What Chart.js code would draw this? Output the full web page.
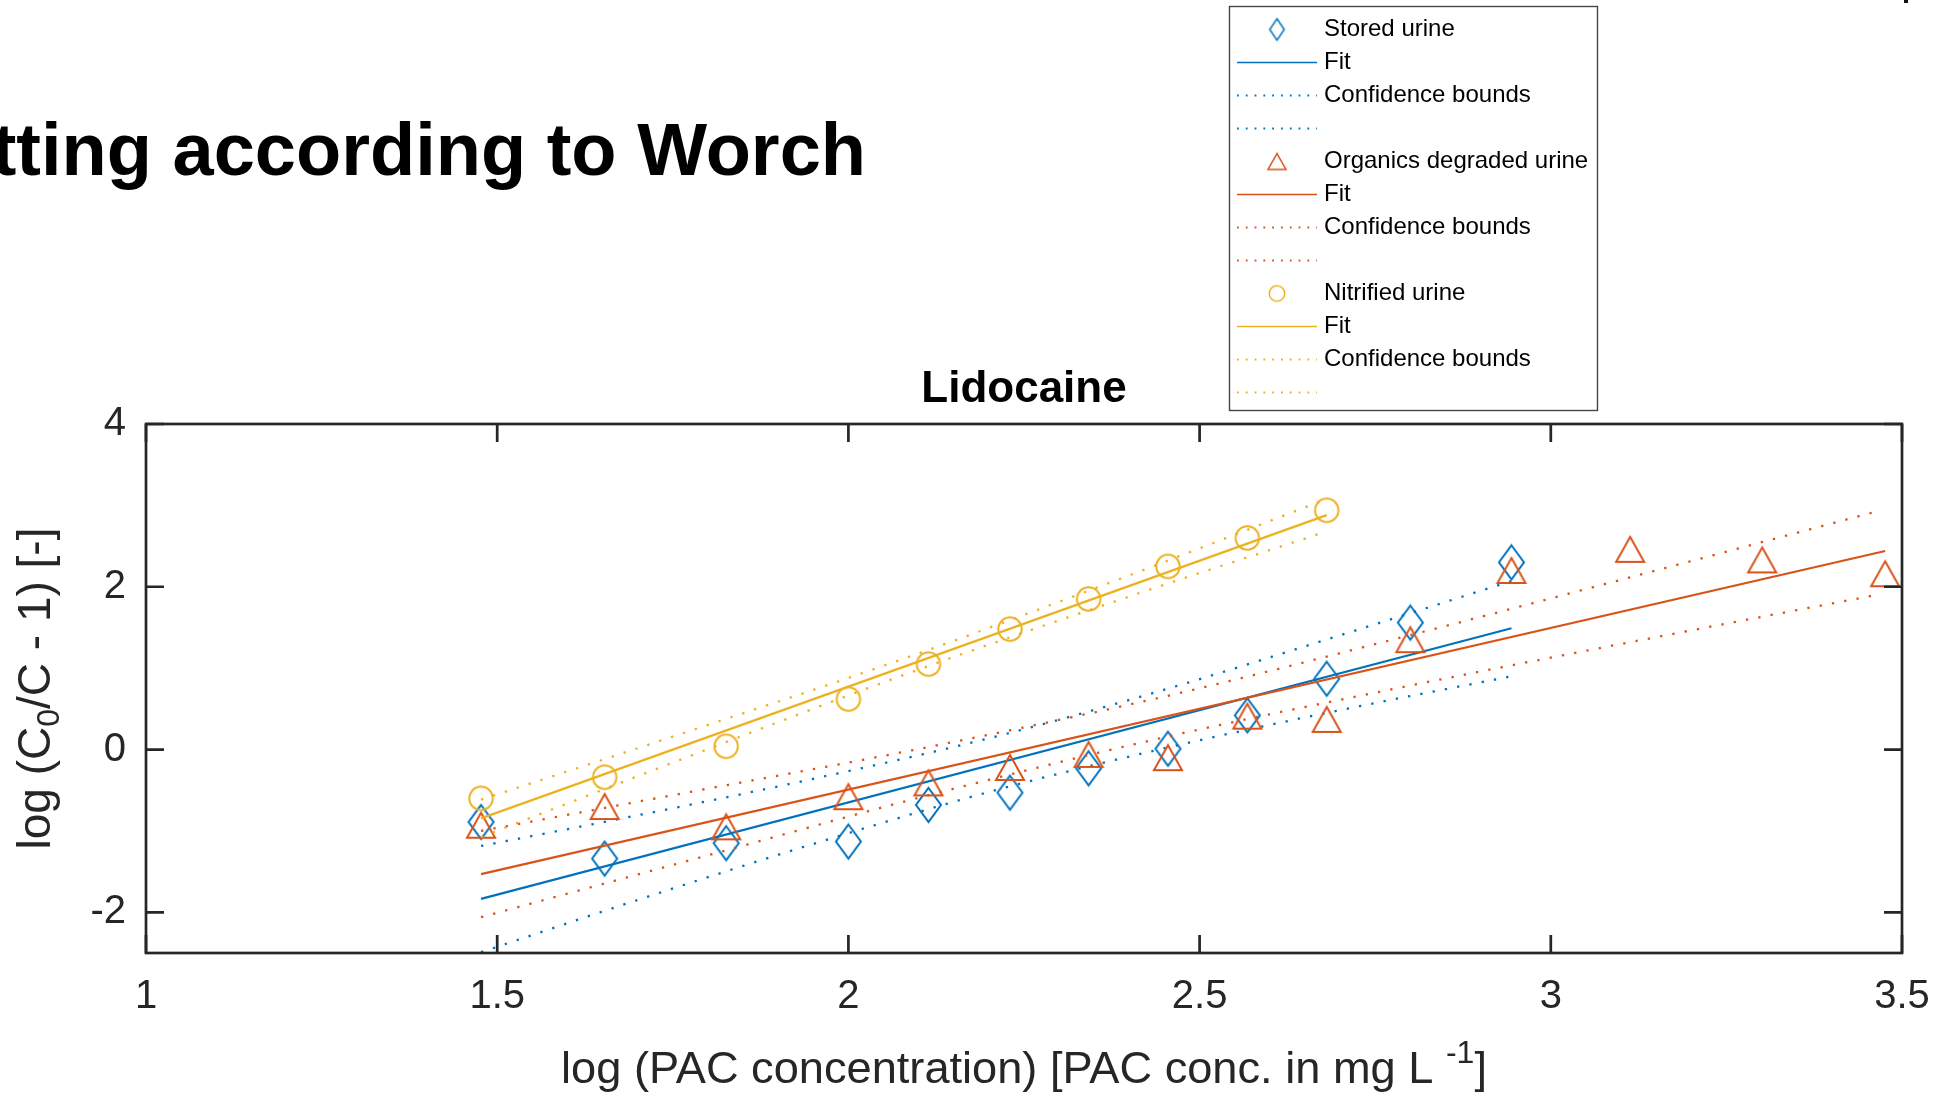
<!DOCTYPE html>
<html>
<head>
<meta charset="utf-8">
<script src="https://cdn.jsdelivr.net/npm/chart.js@4.4.1/dist/chart.umd.min.js"></script>
<style>
  html, body { margin: 0; padding: 0; background: #fff; overflow: hidden; }
  #graph { position: absolute; left: 0; top: 0; }
</style>
</head>
<body>
<canvas id="graph" width="1938" height="1094"></canvas>
<script>
// log10 of the PAC doses (mg/L)
var logPac = [1.477, 1.653, 1.826, 2.000, 2.114, 2.230, 2.342, 2.455, 2.568, 2.681, 2.800, 2.944];
var logPacHigh = [3.113, 3.301, 3.476];

// log(C0/C - 1) per matrix
var storedUrine = [-0.89, -1.34, -1.15, -1.13, -0.68, -0.53, -0.23, 0.01, 0.42, 0.87, 1.56, 2.30];
var organicsUrine = [-0.93, -0.70, -0.95, -0.58, -0.41, -0.22, -0.06, -0.10, 0.41, 0.37, 1.35, 2.20, 2.46, 2.33, 2.16];
var nitrifiedUrine = [-0.60, -0.34, 0.04, 0.62, 1.05, 1.48, 1.85, 2.25, 2.60, 2.94];

// linear fits (end points)
var storedFitX = [1.477, 2.944];
var storedFitY = [-1.835, 1.49];
var organicsFitX = [1.477, 3.476];
var organicsFitY = [-1.53, 2.44];
var nitrifiedFitX = [1.477, 2.681];
var nitrifiedFitY = [-0.846, 2.88];

// confidence bounds
var storedBoundX = [1.477, 1.70, 1.95, 2.20, 2.45, 2.70, 2.944];
var storedUpper = [-1.185, -0.808, -0.36, 0.138, 0.736, 1.404, 2.07];
var storedLower = [-2.49, -1.848, -1.16, -0.522, 0.016, 0.484, 0.90];
var organicsBoundX = [1.477, 1.80, 2.10, 2.45, 2.80, 3.15, 3.47];
var organicsUpper = [-1.00, -0.48, 0.007, 0.651, 1.406, 2.201, 2.94];
var organicsLower = [-2.06, -1.30, -0.593, 0.151, 0.786, 1.381, 1.91];
var nitrifiedBoundX = [1.477, 1.75, 2.08, 2.40, 2.681];
var nitrifiedUpper = [-0.616, 0.159, 1.12, 2.141, 3.08];
var nitrifiedLower = [-1.076, -0.161, 0.92, 1.881, 2.68];

var xTicks = [1, 1.5, 2, 2.5, 3, 3.5];
var xTickLabels = ['1', '1.5', '2', '2.5', '3', '3.5'];
var yTicks = [-2, 0, 2, 4];
var yTickLabels = ['-2', '0', '2', '4'];

var FONT = '"Liberation Sans", Arial, sans-serif';
var BLUE = '#0072BD', RED = '#D95319', YELLOW = '#EDB120';
var AXIS = '#262626';

function markerIcon(shape, color, w, h, lw) {
  var cv = document.createElement('canvas');
  var m = 4;
  cv.width = Math.ceil(w + 2 * m);
  cv.height = Math.ceil(h + 2 * m);
  var c = cv.getContext('2d');
  var cx = cv.width / 2, cy = cv.height / 2;
  c.strokeStyle = color;
  c.lineWidth = lw;
  c.beginPath();
  if (shape === 'diamond') {
    c.moveTo(cx, cy - h / 2); c.lineTo(cx + w / 2, cy);
    c.lineTo(cx, cy + h / 2); c.lineTo(cx - w / 2, cy);
    c.closePath();
  } else if (shape === 'triangle') {
    c.moveTo(cx, cy - h / 2); c.lineTo(cx + w / 2, cy + h / 2);
    c.lineTo(cx - w / 2, cy + h / 2);
    c.closePath();
  } else {
    c.ellipse(cx, cy, w / 2, h / 2, 0, 0, 2 * Math.PI);
  }
  c.stroke();
  return cv;
}

function pairs(xs, ys) {
  return ys.map(function (y, i) { return { x: xs[i], y: y }; });
}

var legendIcons = {};

function markerSet(label, xs, ys, color, shape, w, h, lw, lw2, h2) {
  legendIcons[label] = markerIcon(shape, color, lw2, h2, 1.5);
  return {
    label: label,
    data: pairs(xs, ys),
    showLine: false,
    pointStyle: markerIcon(shape, color, w, h, lw),
    pointRadius: 12,
    pointHoverRadius: 12,
    borderColor: color,
    backgroundColor: color,
    clip: false
  };
}

function lineSet(label, xs, ys, color, dotted) {
  return {
    label: label,
    data: pairs(xs, ys),
    showLine: true,
    pointRadius: 0,
    borderColor: color,
    borderWidth: dotted ? 2.3 : 2.2,
    borderDash: dotted ? [2.3, 10.2] : [],
    cubicInterpolationMode: dotted ? 'monotone' : 'default',
    fill: false
  };
}

var allPac = logPac.concat(logPacHigh);

var datasets = [
  markerSet('Stored urine', logPac, storedUrine, BLUE, 'diamond', 25, 34, 2, 14.5, 21.5),
  lineSet('Fit', storedFitX, storedFitY, BLUE, false),
  lineSet('Confidence bounds', storedBoundX, storedUpper, BLUE, true),
  lineSet('', storedBoundX, storedLower, BLUE, true),
  markerSet('Organics degraded urine', allPac, organicsUrine, RED, 'triangle', 28, 25, 2, 18, 15.8),
  lineSet('Fit', organicsFitX, organicsFitY, RED, false),
  lineSet('Confidence bounds', organicsBoundX, organicsUpper, RED, true),
  lineSet('', organicsBoundX, organicsLower, RED, true),
  markerSet('Nitrified urine', logPac.slice(0, nitrifiedUrine.length), nitrifiedUrine, YELLOW, 'circle', 23.4, 23.4, 2, 15.5, 15.5),
  lineSet('Fit', nitrifiedFitX, nitrifiedFitY, YELLOW, false),
  lineSet('Confidence bounds', nitrifiedBoundX, nitrifiedUpper, YELLOW, true),
  lineSet('', nitrifiedBoundX, nitrifiedLower, YELLOW, true)
];
// later series sit on top, as in the legend order
datasets.forEach(function (ds, i) { ds.order = datasets.length - i; });

function drawRich(c, parts, x, y) {
  var total = 0;
  parts.forEach(function (p) { c.font = p[1] + 'px ' + FONT; total += c.measureText(p[0]).width; });
  var cx = x - total / 2;
  parts.forEach(function (p) {
    c.font = p[1] + 'px ' + FONT;
    c.fillText(p[0], cx, y + p[2]);
    cx += c.measureText(p[0]).width;
  });
}

var figureDecor = {
  id: 'figureDecor',
  beforeDraw: function (chart) {
    var c = chart.ctx;
    c.save();
    c.fillStyle = '#fff';
    c.fillRect(0, 0, chart.width, chart.height);
    c.restore();
  },
  afterDraw: function (chart) {
    var c = chart.ctx;
    var a = chart.chartArea;
    var xs = chart.scales.x, ys = chart.scales.y;
    c.save();

    // axes box with inward ticks on all four sides
    c.strokeStyle = AXIS;
    c.lineWidth = 2.7;
    c.setLineDash([]);
    c.strokeRect(a.left, a.top, a.right - a.left, a.bottom - a.top);
    var tl = 18;
    c.beginPath();
    xTicks.forEach(function (v) {
      var px = xs.getPixelForValue(v);
      c.moveTo(px, a.bottom); c.lineTo(px, a.bottom - tl);
      c.moveTo(px, a.top); c.lineTo(px, a.top + tl);
    });
    yTicks.forEach(function (v) {
      var py = ys.getPixelForValue(v);
      c.moveTo(a.left, py); c.lineTo(a.left + tl, py);
      c.moveTo(a.right, py); c.lineTo(a.right - tl, py);
    });
    c.stroke();

    // slide heading, cut at the left edge
    c.fillStyle = '#000';
    c.font = 'bold 74px ' + FONT;
    c.textAlign = 'right';
    c.textBaseline = 'alphabetic';
    c.fillText('tting according to Worch', 866, 175);

    // axes title
    c.textAlign = 'center';
    c.font = 'bold 44px ' + FONT;
    c.fillText('Lidocaine', (a.left + a.right) / 2, 402);

    // axis labels
    c.fillStyle = AXIS;
    c.textAlign = 'left';
    drawRich(c, [['log (PAC concentration) [PAC conc. in mg L ', 45.2, 0], ['-1', 32, -20], [']', 45.2, 0]],
      (a.left + a.right) / 2, 1083);
    c.save();
    c.translate(50, (a.top + a.bottom) / 2);
    c.rotate(-Math.PI / 2);
    drawRich(c, [['log (C', 46, 0], ['0', 32, 9], ['/C - 1) [-]', 46, 0]], 0, 0);
    c.restore();

    // legend
    var lx = 1229, ly = 6, lw = 369, lh = 405;
    c.fillStyle = '#fff';
    c.fillRect(lx, ly, lw, lh);
    c.strokeStyle = '#454545';
    c.lineWidth = 1.4;
    c.strokeRect(lx + 0.5, ly + 0.5, lw - 1, lh - 1);
    c.font = '24px ' + FONT;
    c.textBaseline = 'middle';
    chart.data.datasets.forEach(function (ds, i) {
      var ry = 29.5 + 33 * i;
      if (ds.showLine) {
        var dotted = ds.borderDash && ds.borderDash.length;
        c.strokeStyle = ds.borderColor;
        c.lineWidth = dotted ? 1.8 : 1.4;
        c.setLineDash(dotted ? [1.8, 7] : []);
        c.beginPath();
        c.moveTo(1237, ry); c.lineTo(1317, ry);
        c.stroke();
        c.setLineDash([]);
      } else {
        var ic = legendIcons[ds.label];
        c.drawImage(ic, 1277 - ic.width / 2, ry - ic.height / 2);
      }
      c.fillStyle = '#000';
      c.fillText(ds.label, 1324, ry);
    });

    c.fillStyle = '#111';
    c.fillRect(1904, 0, 4, 3);
    c.restore();
  }
};

var ctx = document.getElementById('graph').getContext('2d');
var chart = new Chart(ctx, {
  type: 'scatter',
  data: { datasets: datasets },
  options: {
    responsive: false,
    animation: false,
    devicePixelRatio: 1,
    layout: { padding: { left: 0, top: 424, right: 36, bottom: 0 } },
    plugins: {
      legend: { display: false },
      tooltip: { enabled: false }
    },
    scales: {
      x: {
        type: 'linear',
        min: 1,
        max: 3.5,
        afterBuildTicks: function (scale) {
          scale.ticks = xTicks.map(function (v) { return { value: v }; });
        },
        afterFit: function (scale) {
          scale.height = 141;
          scale.paddingLeft = 0;
          scale.paddingRight = 0;
        },
        grid: { display: false, drawTicks: false },
        border: { display: false },
        ticks: {
          padding: 20,
          color: AXIS,
          font: { family: FONT, size: 40 },
          maxRotation: 0,
          callback: function (v, i) { return xTickLabels[i]; }
        }
      },
      y: {
        type: 'linear',
        min: -2.5,
        max: 4,
        afterBuildTicks: function (scale) {
          scale.ticks = yTicks.map(function (v) { return { value: v }; });
        },
        afterFit: function (scale) {
          scale.width = 146;
          scale.paddingTop = 0;
          scale.paddingBottom = 0;
        },
        grid: { display: false, drawTicks: false },
        border: { display: false },
        ticks: {
          padding: 20,
          color: AXIS,
          font: { family: FONT, size: 40 },
          callback: function (v, i) { return yTickLabels[i]; }
        }
      }
    }
  },
  plugins: [figureDecor]
});
</script>
</body>
</html>
